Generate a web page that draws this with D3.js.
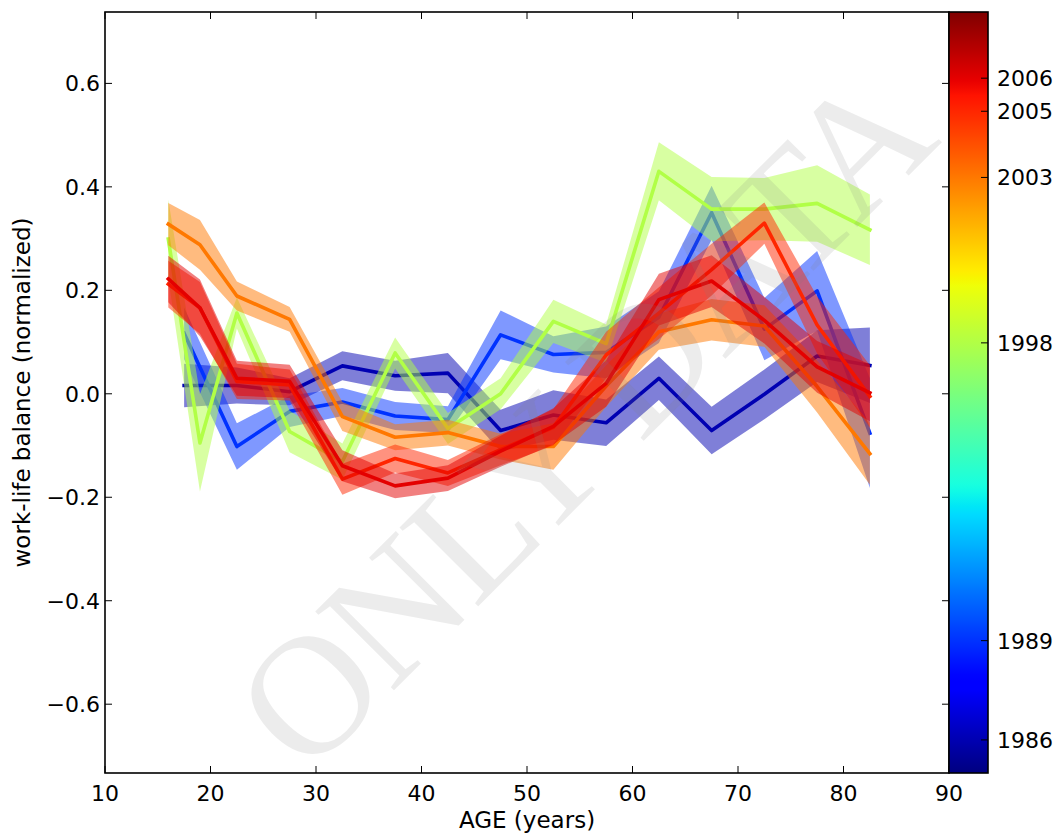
<!DOCTYPE html>
<html>
<head>
<meta charset="utf-8">
<script src="https://cdn.jsdelivr.net/npm/d3@7"></script>
<style>
  html, body { margin: 0; padding: 0; background: #fff; }
  svg { display: block; font-family: "DejaVu Sans", sans-serif; }
</style>
</head>
<body>
<svg id="chart" width="1063" height="838"></svg>
<script>
// ---------------- data ----------------
const agesA = [16, 19, 22.5, 27.5, 32.5, 37.5, 42.5, 47.5, 52.5, 57.5, 62.5, 67.5, 72.5, 77.5, 82.5];
const agesB = [17.5, 22.5, 27.5, 32.5, 37.5, 42.5, 47.5, 52.5, 57.5, 62.5, 67.5, 72.5, 77.5, 82.5];

const years = [1986, 1989, 1998, 2003, 2005, 2006];

const v1986 = [0.016, 0.016, 0.004, 0.054, 0.035, 0.040, -0.071, -0.041, -0.056, 0.030, -0.071, -0.001, 0.073, 0.055];
const e1986 = [0.042, 0.035, 0.026, 0.028, 0.029, 0.039, 0.040, 0.048, 0.045, 0.042, 0.046, 0.048, 0.050, 0.073];

const v1989 = [0.117, -0.102, -0.034, -0.016, -0.043, -0.050, 0.114, 0.076, 0.080, 0.148, 0.350, 0.125, 0.199, -0.076];
const e1989 = [0.050, 0.045, 0.030, 0.027, 0.027, 0.026, 0.047, 0.035, 0.050, 0.050, 0.052, 0.060, 0.077, 0.106];

const v1998 = [0.299, -0.095, 0.156, -0.073, -0.131, 0.079, -0.067, 0.000, 0.140, 0.097, 0.430, 0.357, 0.357, 0.368, 0.317];
const e1998 = [0.076, 0.094, 0.030, 0.040, 0.035, 0.030, 0.030, 0.030, 0.042, 0.037, 0.056, 0.062, 0.060, 0.074, 0.068];

const v2003 = [0.328, 0.288, 0.189, 0.144, -0.044, -0.084, -0.075, -0.102, -0.102, 0.015, 0.120, 0.143, 0.131, 0.014, -0.116];
const e2003 = [0.041, 0.048, 0.028, 0.024, 0.028, 0.025, 0.025, 0.025, 0.045, 0.040, 0.035, 0.040, 0.040, 0.050, 0.060];

const v2005 = [0.212, 0.166, 0.024, 0.017, -0.165, -0.125, -0.153, -0.108, -0.065, 0.075, 0.156, 0.240, 0.330, 0.133, -0.005];
const e2005 = [0.045, 0.050, 0.034, 0.030, 0.030, 0.027, 0.025, 0.030, 0.035, 0.045, 0.050, 0.050, 0.040, 0.055, 0.060];

const v2006 = [0.222, 0.166, 0.030, 0.024, -0.139, -0.178, -0.163, -0.111, -0.063, 0.020, 0.182, 0.218, 0.142, 0.052, 0.002];
const e2006 = [0.045, 0.055, 0.034, 0.032, 0.030, 0.024, 0.025, 0.030, 0.035, 0.045, 0.050, 0.050, 0.045, 0.050, 0.055];

const xTicks = [10, 20, 30, 40, 50, 60, 70, 80, 90];
const yTicks = [-0.6, -0.4, -0.2, 0.0, 0.2, 0.4, 0.6];
const cbTicks = [1986, 1989, 1998, 2003, 2005, 2006];
const xLabel = "AGE (years)";
const yLabel = "work-life balance (normalized)";
const watermark = "ONLY DATA";
const cbMin = 1985, cbMax = 2008;

const seriesList = [
  {year: 1986, ages: agesB, v: v1986, e: e1986},
  {year: 1989, ages: agesB, v: v1989, e: e1989},
  {year: 1998, ages: agesA, v: v1998, e: e1998},
  {year: 2003, ages: agesA, v: v2003, e: e2003},
  {year: 2005, ages: agesA, v: v2005, e: e2005},
  {year: 2006, ages: agesA, v: v2006, e: e2006}
];

// ---------------- matplotlib jet ----------------
const jetR = [[0,0],[0.35,0],[0.66,1],[0.89,1],[1,0.5]];
const jetG = [[0,0],[0.125,0],[0.375,1],[0.64,1],[0.91,0],[1,0]];
const jetB = [[0,0.5],[0.11,1],[0.34,1],[0.65,0],[1,0]];
function seg(pts, t) {
  for (let i = 1; i < pts.length; i++) {
    if (t <= pts[i][0]) {
      const [x0, y0] = pts[i-1], [x1, y1] = pts[i];
      return y0 + (y1 - y0) * (t - x0) / (x1 - x0);
    }
  }
  return pts[pts.length-1][1];
}
function jet(t) {
  t = Math.max(0, Math.min(1, t));
  return d3.rgb(Math.round(255*seg(jetR,t)), Math.round(255*seg(jetG,t)), Math.round(255*seg(jetB,t)));
}

// ---------------- layout ----------------
const L = 105, R = 949, T = 12, B = 773;
const cbL = 949, cbR = 988;

const svg = d3.select("#chart");
const x = d3.scaleLinear().domain([10, 90]).range([L, R]);
const y = d3.scaleLinear().domain([-0.733, 0.738]).range([B, T]);
const cNorm = d3.scaleLinear().domain([cbMin, cbMax]).range([0, 1]);
const cbY = d3.scaleLinear().domain([cbMin, cbMax]).range([B, T]);

const defs = svg.append("defs");
defs.append("clipPath").attr("id", "clip")
  .append("rect").attr("x", L).attr("y", T).attr("width", R - L).attr("height", B - T);

svg.append("rect").attr("x", 0).attr("y", 0).attr("width", 1063).attr("height", 838).attr("fill", "#fff");

const plot = svg.append("g").attr("clip-path", "url(#clip)");

const area = d3.area()
  .x(d => x(d.a)).y0(d => y(d.v - d.e)).y1(d => y(d.v + d.e));
const line = d3.line().x(d => x(d.a)).y(d => y(d.v));

seriesList.forEach(s => {
  const pts = s.ages.map((a, i) => ({a, v: s.v[i], e: s.e[i]}));
  const col = jet(cNorm(s.year));
  plot.append("path").datum(pts).attr("d", area)
    .attr("fill", col.toString()).attr("fill-opacity", 0.5).attr("stroke", "none");
  plot.append("path").datum(pts).attr("d", line)
    .attr("fill", "none").attr("stroke", col.toString()).attr("stroke-width", 3.6)
    .attr("stroke-linejoin", "round").attr("stroke-linecap", "square");
});

// ---------------- axes ----------------
const tickLen = 7;
const fr = svg.append("g");
xTicks.forEach(t => {
  fr.append("line").attr("x1", x(t)).attr("x2", x(t)).attr("y1", B).attr("y2", B - tickLen).attr("stroke", "#000").attr("stroke-width", 1);
  fr.append("line").attr("x1", x(t)).attr("x2", x(t)).attr("y1", T).attr("y2", T + tickLen).attr("stroke", "#000").attr("stroke-width", 1);
  fr.append("text").attr("x", x(t)).attr("y", 801).attr("text-anchor", "middle")
    .attr("font-size", 22).attr("fill", "#000").text(d3.format("d")(t));
});
yTicks.forEach(t => {
  fr.append("line").attr("x1", L).attr("x2", L + tickLen).attr("y1", y(t)).attr("y2", y(t)).attr("stroke", "#000").attr("stroke-width", 1);
  fr.append("line").attr("x1", R).attr("x2", R - tickLen).attr("y1", y(t)).attr("y2", y(t)).attr("stroke", "#000").attr("stroke-width", 1);
  fr.append("text").attr("x", L - 5).attr("y", y(t)).attr("dy", "0.36em").attr("text-anchor", "end")
    .attr("font-size", 22).attr("fill", "#000").text(d3.format(".1f")(t).replace("-", "\u2212"));
});
fr.append("rect").attr("x", L).attr("y", T).attr("width", R - L).attr("height", B - T)
  .attr("fill", "none").attr("stroke", "#000").attr("stroke-width", 1.6);

svg.append("text").attr("x", (L + R) / 2).attr("y", 828).attr("text-anchor", "middle")
  .attr("font-size", 23).attr("fill", "#000").text(xLabel);
svg.append("text").attr("transform", `translate(30,${(T + B) / 2}) rotate(-90)`).attr("text-anchor", "middle")
  .attr("font-size", 23).attr("fill", "#000").text(yLabel);

// ---------------- colorbar ----------------
const grad = defs.append("linearGradient").attr("id", "jetgrad")
  .attr("x1", 0).attr("y1", 1).attr("x2", 0).attr("y2", 0);
d3.range(0, 1.0001, 0.01).forEach(t => {
  grad.append("stop").attr("offset", t).attr("stop-color", jet(t).toString());
});
svg.append("rect").attr("x", cbL).attr("y", T).attr("width", cbR - cbL).attr("height", B - T)
  .attr("fill", "url(#jetgrad)").attr("stroke", "#000").attr("stroke-width", 1.6);
cbTicks.forEach(t => {
  svg.append("line").attr("x1", cbR).attr("x2", cbR - tickLen).attr("y1", cbY(t)).attr("y2", cbY(t)).attr("stroke", "#000").attr("stroke-width", 1);
  svg.append("text").attr("x", 997).attr("y", cbY(t)).attr("dy", "0.36em")
    .attr("font-size", 22).attr("fill", "#000").text(t);
});

// ---------------- watermark ----------------
svg.append("text")
  .attr("transform", "translate(585,420) rotate(-45)")
  .attr("text-anchor", "middle").attr("dy", "0.33em")
  .attr("font-family", "'Liberation Serif', 'DejaVu Serif', serif")
  .attr("font-size", 170).attr("fill", "#808080").attr("fill-opacity", 0.15)
  .attr("textLength", 900).attr("lengthAdjust", "spacing")
  .text(watermark);
</script>
</body>
</html>
